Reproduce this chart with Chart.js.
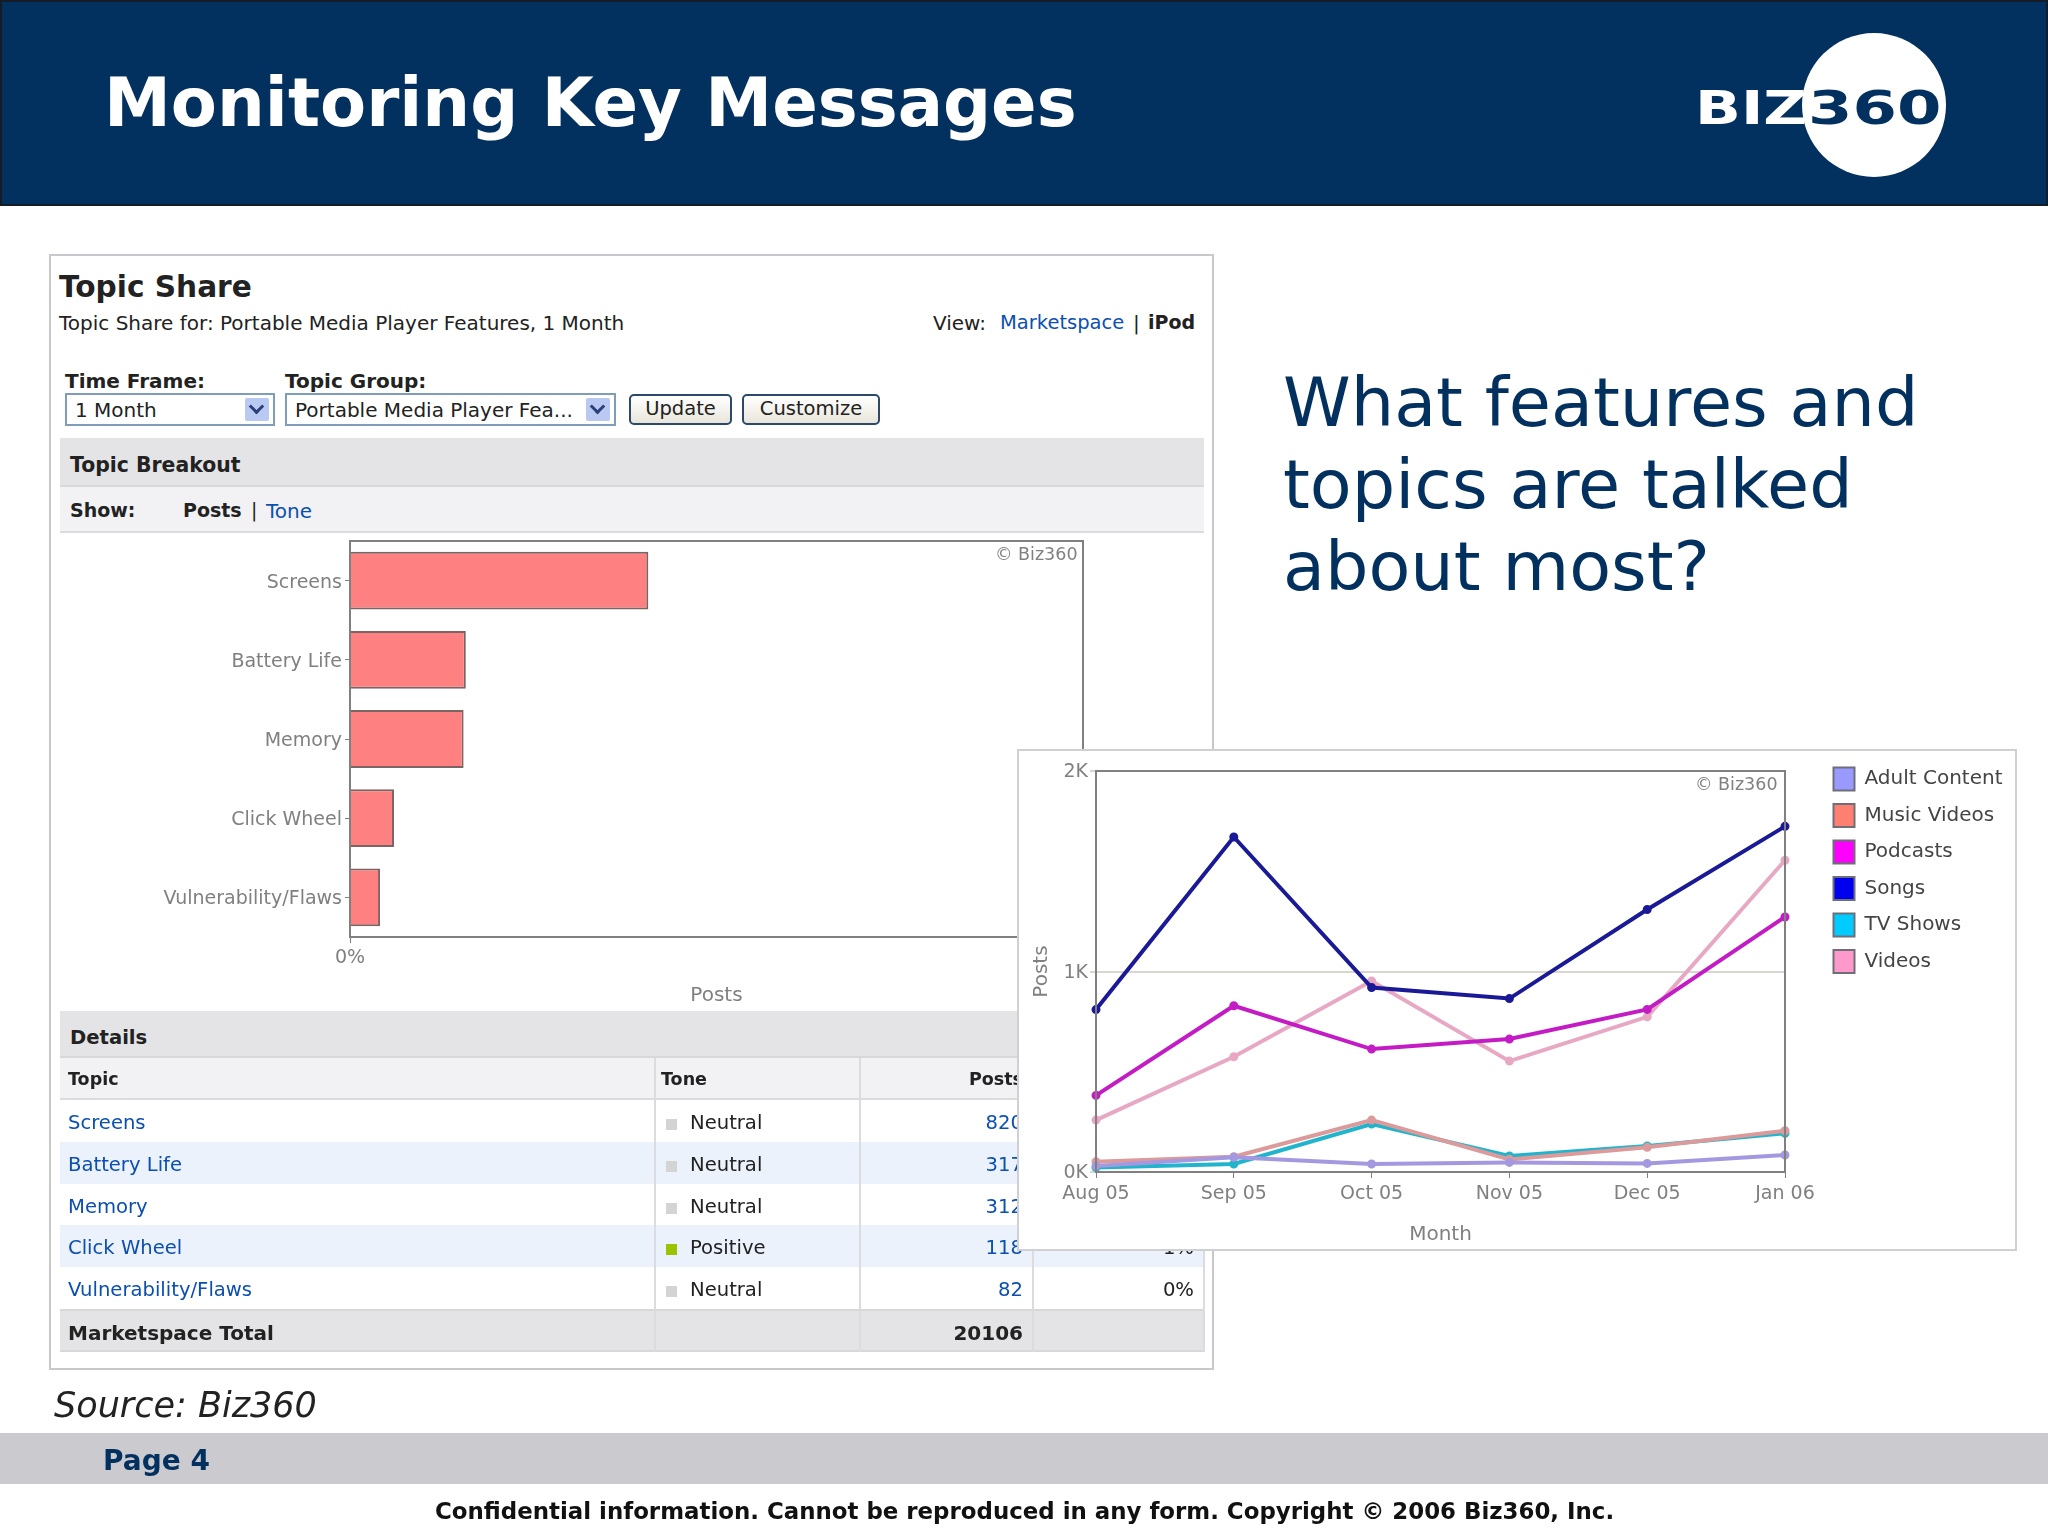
<!DOCTYPE html>
<html>
<head>
<meta charset="utf-8">
<script src="https://cdn.jsdelivr.net/npm/chart.js@4"></script>
<style>
html,body{margin:0;padding:0;background:#fff;}
#slide{position:relative;width:2048px;height:1536px;overflow:hidden;background:#fff;font-family:"DejaVu Sans",sans-serif;color:#222;}
#slide div,#slide canvas{position:absolute;box-sizing:border-box;}
.t{white-space:nowrap;line-height:1;}
.b{font-weight:bold;}
.s{font-size:20px;}
.r{font-size:19.6px;}
.h{font-size:17.5px;}
.a{color:#0b4fb3;}
.band{background:#e4e4e6;border-bottom:2px solid #d8d8da;}
.band2{background:#f2f2f4;border-bottom:2px solid #dcdcde;}
.sel{background:#fff;border:2px solid #7f9db9;}
.arrow{background:#b9c9f2;border-radius:2px;}
.chev{width:11px;height:11px;border-right:3px solid #2b3f7a;border-bottom:3px solid #2b3f7a;transform:rotate(45deg);}
.btn{border:2px solid #2b4a6b;border-radius:5px;background:linear-gradient(#ffffff,#e8e6da);text-align:center;font-size:19.5px;line-height:26px;}
.vl{width:2px;background:#dcdce0;}
</style>
</head>
<body>
<div id="slide">
  <div style="left:0;top:0;width:2048px;height:206px;background:#03315f;border:2px solid #141c28;"></div>
  <div class="t b" style="left:104px;top:70px;font-size:67.2px;color:#fff;">Monitoring Key Messages</div>
  <div style="left:1802px;top:33px;width:144px;height:144px;border-radius:50%;background:#fff;"></div>
  <div class="t b" style="left:1695px;top:85px;font-size:46px;color:#fff;transform:scaleX(1.31);transform-origin:left;">BIZ</div>
  <div class="t b" style="left:1808px;top:85px;font-size:46px;color:#03315f;transform:scaleX(1.39);transform-origin:left;">360</div>

  <div style="left:49px;top:254px;width:1165px;height:1116px;border:2px solid #c8c8cc;"></div>
  <div class="t b" style="left:59px;top:273px;font-size:29.6px;">Topic Share</div>
  <div class="t s" style="left:59px;top:313px;">Topic Share for: Portable Media Player Features, 1 Month</div>
  <div class="t s" style="left:933px;top:313px;">View:</div>
  <div class="t a" style="left:1000px;top:313px;font-size:19.5px;">Marketspace</div>
  <div class="t s" style="left:1133px;top:313px;">|</div>
  <div class="t b" style="left:1148px;top:313px;font-size:19px;">iPod</div>

  <div class="t s b" style="left:65px;top:371px;">Time Frame:</div>
  <div class="t s b" style="left:285px;top:371px;">Topic Group:</div>
  <div class="sel" style="left:65px;top:393px;width:210px;height:33px;"></div>
  <div class="t s" style="left:75px;top:400px;">1 Month</div>
  <div class="arrow" style="left:245px;top:398px;width:24px;height:23px;"></div>
  <div class="chev" style="left:251px;top:401px;"></div>
  <div class="sel" style="left:285px;top:393px;width:331px;height:33px;"></div>
  <div class="t s" style="left:295px;top:400px;">Portable Media Player Fea...</div>
  <div class="arrow" style="left:586px;top:398px;width:24px;height:23px;"></div>
  <div class="chev" style="left:592px;top:401px;"></div>
  <div class="btn" style="left:629px;top:394px;width:103px;height:31px;">Update</div>
  <div class="btn" style="left:742px;top:394px;width:138px;height:31px;">Customize</div>

  <div class="band" style="left:60px;top:438px;width:1144px;height:49px;"></div>
  <div class="t b" style="left:70px;top:455px;font-size:20.4px;">Topic Breakout</div>
  <div class="band2" style="left:60px;top:487px;width:1144px;height:46px;"></div>
  <div class="t b" style="left:70px;top:501px;font-size:19px;">Show:</div>
  <div class="t b" style="left:183px;top:501px;font-size:19px;">Posts</div>
  <div class="t" style="left:251px;top:501px;font-size:19px;">|</div>
  <div class="t s a" style="left:266px;top:501px;">Tone</div>

  <canvas id="barChart" style="left:62px;top:520px;width:1142px;height:491px;"></canvas>
  <div class="t" style="left:995px;top:546px;font-size:17.5px;color:#808080;">© Biz360</div>

  <div class="band" style="left:60px;top:1011px;width:1144px;height:47px;"></div>
  <div class="t b" style="left:70px;top:1028px;font-size:19.6px;">Details</div>
  <div class="band2" style="left:60px;top:1058px;width:1144px;height:42px;"></div>
  <div id="rows" style="left:0;top:0;width:2048px;height:1536px;"></div>

  <div style="left:1017px;top:749px;width:1000px;height:502px;background:#fff;border:2px solid #d0d0d4;"></div>
  <canvas id="lineChart" style="left:1019px;top:751px;width:1008px;height:498px;"></canvas>
  <div class="t" style="left:1695px;top:776px;font-size:17.5px;color:#808080;">© Biz360</div>

  <div style="left:1283px;top:361px;width:720px;font-size:68.5px;line-height:82px;color:#03315f;white-space:nowrap;">What features and<br>topics are talked<br>about most?</div>

  <div class="t" style="left:54px;top:1388px;font-size:35px;font-style:italic;">Source: Biz360</div>
  <div style="left:0;top:1433px;width:2048px;height:51px;background:#cbcbcf;"></div>
  <div class="t b" style="left:103px;top:1447px;font-size:28px;color:#03315f;">Page 4</div>
  <div class="t b" style="left:435px;top:1500px;font-size:22.9px;color:#111;">Confidential information. Cannot be reproduced in any form. Copyright © 2006 Biz360, Inc.</div>
</div>

<script>
// bar chart
const topics = ['Screens', 'Battery Life', 'Memory', 'Click Wheel', 'Vulnerability/Flaws'];
const topicShare = [4.07, 1.58, 1.55, 0.6, 0.41];
const shareTicks = [0, 10];

// table
const tones = ['Neutral', 'Neutral', 'Neutral', 'Positive', 'Neutral'];
const postCounts = ['820', '317', '312', '118', '82'];
const sharePct = ['4%', '2%', '2%', '1%', '0%'];
const totalPosts = '20106';

// line chart
const months = ['Aug 05', 'Sep 05', 'Oct 05', 'Nov 05', 'Dec 05', 'Jan 06'];
const adultContent = [30, 73, 40, 48, 43, 85];
const musicVideos = [51, 76, 259, 63, 123, 206];
const podcasts = [382, 829, 613, 663, 811, 1272];
const songs = [810, 1671, 920, 865, 1309, 1724];
const tvShows = [22, 40, 239, 80, 130, 193];
const videos = [259, 575, 953, 553, 774, 1555];
const postTicks = [0, 1000, 2000];

const gray = '#808080';
const tickFont = {family: '"DejaVu Sans"', size: 19};

// table rows, plain divs to match the screenshot
const rowTops = [1100, 1142, 1184, 1225, 1267];
const rowsEl = document.getElementById('rows');
let html = '';
const cell = (x, y, cls, txt, right) => `<div class="t ${cls}" style="${right ? 'right:' + (2048 - x) : 'left:' + x}px;top:${y}px;">${txt}</div>`;
html += cell(68, 1071, 'h b', 'Topic');
html += cell(661, 1071, 'h b', 'Tone');
html += cell(1023, 1071, 'h b', 'Posts', true);
html += cell(1194, 1071, 'h b', 'Share', true);
topics.forEach((name, i) => {
    const top = rowTops[i];
    const bg = i % 2 ? '#ecf2fc' : '#fff';
    html += `<div style="left:60px;top:${top}px;width:1144px;height:42px;background:${bg};"></div>`;
    html += cell(68, top + 13, 'r a', name);
    html += `<div style="left:666px;top:${top + 19}px;width:11px;height:11px;background:${tones[i] === 'Positive' ? '#9ac400' : '#d4d4d4'};"></div>`;
    html += cell(690, top + 13, 'r', tones[i]);
    html += cell(1023, top + 13, 'r a', postCounts[i], true);
    html += cell(1194, top + 13, 'r', sharePct[i], true);
});
html += `<div class="band" style="left:60px;top:1309px;width:1144px;height:43px;border-top:2px solid #d8d8da;"></div>`;
html += cell(68, 1323, 's b', 'Marketspace Total');
html += cell(1023, 1323, 's b', totalPosts, true);
[654, 859, 1032, 1203].forEach(x => {
    html += `<div class="vl" style="left:${x}px;top:1058px;height:294px;"></div>`;
});
rowsEl.innerHTML = html;

// grey box around the plot, top and right sides too
const plotBox = {
    id: 'plotBox',
    afterDatasetsDraw(chart){
        const a = chart.chartArea;
        const ctx = chart.ctx;
        ctx.save();
        ctx.strokeStyle = gray;
        ctx.lineWidth = 2;
        ctx.strokeRect(a.left, a.top, a.right - a.left, a.bottom - a.top);
        ctx.restore();
    }
};

// legend sits away from the plot, to the right of it
const moveLegend = {
    id: 'moveLegend',
    afterLayout(chart){
        const l = chart.legend;
        const w = l.width, h = l.height;
        l.left = chart.chartArea.right + 35;
        l.right = l.left + w + 60;
        l.top = chart.chartArea.top - 17;
        l.bottom = l.top + h + 20;
    }
};

new Chart(document.getElementById('barChart'), {
    type: 'bar',
    data: {
        labels: topics,
        datasets: [{
            data: topicShare,
            backgroundColor: '#ff8080',
            borderColor: '#7c6464',
            borderWidth: 2,
            barPercentage: 0.73,
            categoryPercentage: 1
        }]
    },
    plugins: [plotBox],
    options: {
        indexAxis: 'y',
        responsive: false,
        animation: false,
        layout: {padding: {top: 21, right: 121}},
        plugins: {legend: {display: false}, tooltip: {enabled: false}},
        scales: {
            x: {
                min: shareTicks[0],
                max: shareTicks[1],
                afterBuildTicks(axis){ axis.ticks = shareTicks.map(v => ({value: v})); },
                afterFit(axis){ axis.height = 74; },
                grid: {drawOnChartArea: false, color: gray, tickLength: 6},
                border: {color: gray},
                ticks: {color: gray, font: tickFont, padding: 4, maxRotation: 0, callback: v => v + '%'},
                title: {display: true, text: 'Posts', color: gray, font: {family: '"DejaVu Sans"', size: 20}, padding: {top: 0, bottom: 3}}
            },
            y: {
                afterFit(axis){ axis.width = 288; },
                grid: {drawOnChartArea: false, offset: false, color: gray, tickLength: 5},
                border: {color: gray},
                ticks: {color: gray, font: tickFont, padding: 3, labelOffset: 2}
            }
        }
    }
});

const swatches = ['#9999ff', '#ff8070', '#ff00ff', '#0000ee', '#00ccff', '#ff99cc'];

new Chart(document.getElementById('lineChart'), {
    type: 'line',
    data: {
        labels: months,
        datasets: [
            {label: 'Adult Content', data: adultContent, borderColor: '#a498e0'},
            {label: 'Music Videos', data: musicVideos, borderColor: '#dc9a9a'},
            {label: 'Podcasts', data: podcasts, borderColor: '#c41cc4'},
            {label: 'Songs', data: songs, borderColor: '#1a1a96'},
            {label: 'TV Shows', data: tvShows, borderColor: '#22b4cc'},
            {label: 'Videos', data: videos, borderColor: '#e8a8c4'}
        ].map(d => Object.assign(d, {
            borderWidth: 4,
            pointRadius: 2.5,
            pointBackgroundColor: d.borderColor,
            pointBorderColor: d.borderColor,
            tension: 0,
            clip: false
        }))
    },
    plugins: [plotBox, moveLegend],
    options: {
        responsive: false,
        animation: false,
        layout: {padding: {top: 20, right: 242, left: 0}},
        plugins: {
            tooltip: {enabled: false},
            legend: {
                position: 'chartArea',
                align: 'start',
                labels: {
                    color: '#444',
                    font: {family: '"DejaVu Sans"', size: 20},
                    boxWidth: 21,
                    boxHeight: 23,
                    padding: 13.5,
                    generateLabels(chart){
                        return chart.data.datasets.map((d, i) => ({
                            text: d.label,
                            fillStyle: swatches[i],
                            strokeStyle: '#6e6e78',
                            lineWidth: 2,
                            fontColor: '#444',
                            datasetIndex: i
                        }));
                    }
                }
            }
        },
        scales: {
            x: {
                afterFit(axis){ axis.height = 77; },
                grid: {drawOnChartArea: false, color: gray, tickLength: 6},
                border: {color: gray},
                ticks: {color: gray, font: tickFont, padding: 5, maxRotation: 0, autoSkip: false},
                title: {display: true, text: 'Month', color: gray, font: {family: '"DejaVu Sans"', size: 20}, padding: {top: 0, bottom: 2}}
            },
            y: {
                min: postTicks[0],
                max: postTicks[2],
                afterBuildTicks(axis){ axis.ticks = postTicks.map(v => ({value: v})); },
                afterFit(axis){ axis.width = 77; },
                grid: {color: '#d9d6d2', tickLength: 6, lineWidth: 2},
                border: {color: gray},
                ticks: {color: gray, font: tickFont, padding: 2, labelOffset: 1.5, callback: v => (v / 1000) + 'K'},
                title: {display: true, text: 'Posts', color: gray, font: {family: '"DejaVu Sans"', size: 20}, padding: {top: 11, bottom: 0}}
            }
        }
    }
});
</script>
</body>
</html>
